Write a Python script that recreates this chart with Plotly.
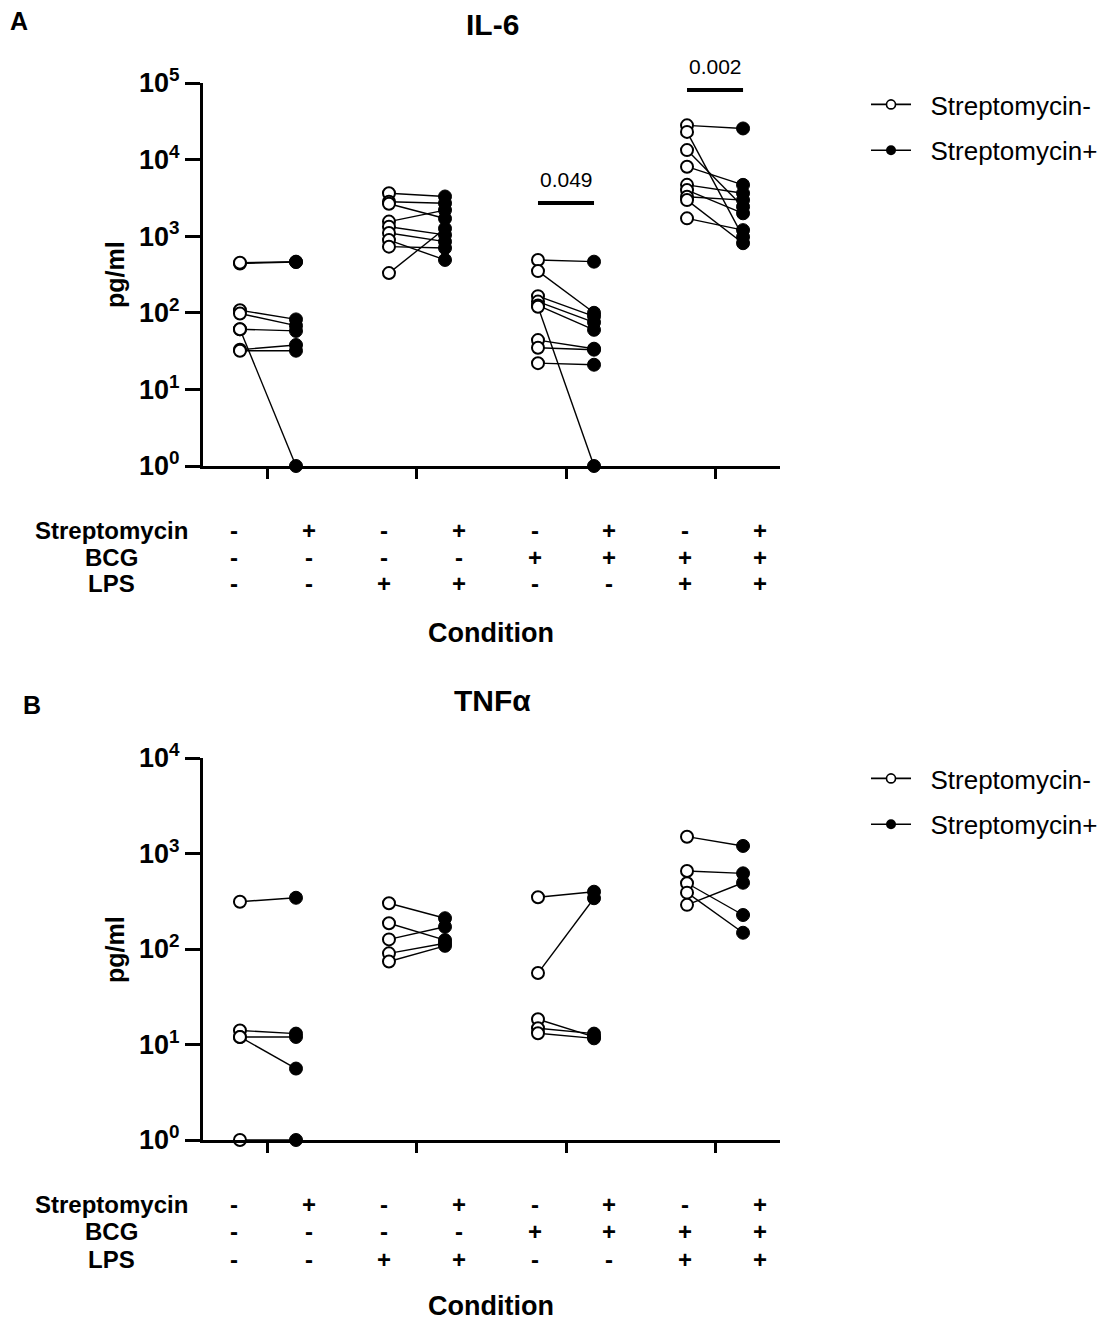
import math
import plotly.graph_objects as go

# ---------------- data ----------------
groups = [1, 2, 3, 4]

il6_open = [
    [440, 450, 108, 98, 61, 61, 33, 32],
    [3630, 2820, 2650, 1550, 1330, 1100, 890, 730, 330],
    [490, 350, 165, 140, 125, 120, 44, 35, 22],
    [28000, 23000, 13300, 8080, 4680, 4000, 3280, 2960, 1710],
]
il6_filled = [
    [460, 465, 82, 68, 58, 1, 38, 32],
    [3300, 2690, 1700, 2190, 1040, 850, 490, 700, 1260],
    [465, 100, 90, 75, 60, 1, 34, 33, 21],
    [25500, 980, 2430, 4680, 3630, 1990, 2960, 810, 1200],
]

tnf_open = [
    [313, 14, 12, 12, 1],
    [301, 186, 126, 90, 74],
    [348, 56, 18.4, 14.8, 13.1],
    [1500, 656, 488, 389, 290],
]
tnf_filled = [
    [344, 13, 12, 5.6, 1],
    [210, 124, 171, 115, 108],
    [398, 340, 12, 13, 11.6],
    [1200, 620, 227, 148, 494],
]

il6_sig_groups = [3, 4]
il6_sig_labels = ["0.049", "0.002"]
il6_sig_bar_y = [2710, 81000]

row_labels = ["Streptomycin", "BCG", "LPS"]
streptomycin = ["-", "+", "-", "+", "-", "+", "-", "+"]
bcg = ["-", "-", "-", "-", "+", "+", "+", "+"]
lps = ["-", "-", "+", "+", "-", "-", "+", "+"]

legend_names = ["Streptomycin-", "Streptomycin+"]

il6_tickvals = [1, 10, 100, 1000, 10000, 100000]
il6_ticktext = ["10<sup>0</sup>", "10<sup>1</sup>", "10<sup>2</sup>", "10<sup>3</sup>", "10<sup>4</sup>", "10<sup>5</sup>"]
tnf_tickvals = [1, 10, 100, 1000, 10000]
tnf_ticktext = ["10<sup>0</sup>", "10<sup>1</sup>", "10<sup>2</sup>", "10<sup>3</sup>", "10<sup>4</sup>"]

# ---------------- styling ----------------
PAGE_OFF = 8  # default page body margin
W, H = 1107 - PAGE_OFF, 1320 - PAGE_OFF
FONT = "Liberation Sans, Arial, sans-serif"
OFF = 0.188


def px_x(p):
    return (p - PAGE_OFF) / W


def px_y(p):
    return 1 - (p - PAGE_OFF) / H


fig = go.Figure()


def add_panel(open_vals, filled_vals, xa, ya, legend):
    for g, ov, fv in zip(groups, open_vals, filled_vals):
        lx, ly = [], []
        for o, f in zip(ov, fv):
            lx += [g - OFF, g + OFF, None]
            ly += [o, f, None]
        fig.add_trace(go.Scatter(x=lx, y=ly, mode="lines", xaxis=xa, yaxis=ya,
                                 line=dict(color="black", width=1.4),
                                 showlegend=False, cliponaxis=False, hoverinfo="skip"))
        fig.add_trace(go.Scatter(x=[g - OFF] * len(ov), y=ov, mode="markers", xaxis=xa, yaxis=ya,
                                 marker=dict(symbol="circle", size=12, color="white",
                                             line=dict(color="black", width=2)),
                                 showlegend=False, cliponaxis=False))
        fig.add_trace(go.Scatter(x=[g + OFF] * len(fv), y=fv, mode="markers", xaxis=xa, yaxis=ya,
                                 marker=dict(symbol="circle", size=13, color="black",
                                             line=dict(color="black", width=1)),
                                 showlegend=False, cliponaxis=False))
    # legend entries
    fig.add_trace(go.Scatter(x=[None], y=[None], mode="lines+markers",
                             name="\u00a0\u00a0" + legend_names[0],
                             xaxis=xa, yaxis=ya, legend=legend, legendgroup=legend + "a",
                             line=dict(color="black", width=1.6),
                             marker=dict(symbol="circle", size=9, color="white",
                                         line=dict(color="black", width=1.6))))
    fig.add_trace(go.Scatter(x=[None], y=[None], mode="lines+markers",
                             name="\u00a0\u00a0" + legend_names[1],
                             xaxis=xa, yaxis=ya, legend=legend, legendgroup=legend + "b",
                             line=dict(color="black", width=1.6),
                             marker=dict(symbol="circle", size=10, color="black")))


add_panel(il6_open, il6_filled, "x", "y", "legend")
add_panel(tnf_open, tnf_filled, "x2", "y2", "legend2")

# significance bars (IL-6)
for g, lab, by in zip(il6_sig_groups, il6_sig_labels, il6_sig_bar_y):
    fig.add_trace(go.Scatter(x=[g - OFF, g + OFF], y=[by, by], mode="lines", xaxis="x", yaxis="y",
                             line=dict(color="black", width=4), showlegend=False,
                             cliponaxis=False, hoverinfo="skip"))

annotations = []
for g, lab, by in zip(il6_sig_groups, il6_sig_labels, il6_sig_bar_y):
    annotations.append(dict(x=g, y=math.log10(by), xref="x", yref="y", text=lab,
                            showarrow=False, yanchor="bottom", yshift=10,
                            font=dict(family=FONT, size=21, color="black")))

xdom = [px_x(203), px_x(780)]
axis_common = dict(showline=True, linewidth=3, linecolor="black", showgrid=False, zeroline=False,
                   ticks="outside", tickwidth=3, tickcolor="black", automargin=False)

xaxis_cfg = dict(axis_common, domain=xdom, range=[0.564, 4.436], tickvals=groups,
                 ticktext=[""] * 4, ticklen=10)
yfont = dict(family=FONT, size=27, color="black", weight="bold")
fig.update_layout(
    xaxis=dict(xaxis_cfg, anchor="y"),
    xaxis2=dict(xaxis_cfg, anchor="y2"),
    yaxis=dict(axis_common, type="log", range=[0, 5], domain=[px_y(466), px_y(83)], anchor="x",
               tickvals=il6_tickvals, ticktext=il6_ticktext, ticklen=15, tickfont=yfont),
    yaxis2=dict(axis_common, type="log", range=[0, 4], domain=[px_y(1140), px_y(758)], anchor="x2",
                tickvals=tnf_tickvals, ticktext=tnf_ticktext, ticklen=15, tickfont=yfont),
)

# titles, labels, table
panel_defs = [
    dict(letter="A", lx=19, ly=21, title="IL-6", ty=25, ylab_y=275, rows=[530, 557, 584], cond=633),
    dict(letter="B", lx=32, ly=705, title="TNFα", ty=700, ylab_y=950, rows=[1204, 1231, 1259], cond=1306),
]
col_x = [234, 309, 384, 459, 535, 609, 685, 760]
rows_vals = [streptomycin, bcg, lps]
for pd_ in panel_defs:
    annotations.append(dict(x=px_x(pd_["lx"]), y=px_y(pd_["ly"]), xref="paper", yref="paper",
                            text=pd_["letter"], showarrow=False, xanchor="center", yanchor="middle",
                            font=dict(family=FONT, size=25, color="black", weight="bold")))
    annotations.append(dict(x=px_x(492), y=px_y(pd_["ty"]), xref="paper", yref="paper",
                            text=pd_["title"], showarrow=False, xanchor="center", yanchor="middle",
                            font=dict(family=FONT, size=30, color="black", weight="bold")))
    annotations.append(dict(x=px_x(115), y=px_y(pd_["ylab_y"]), xref="paper", yref="paper",
                            text="pg/ml", showarrow=False, textangle=-90, xanchor="center", yanchor="middle",
                            font=dict(family=FONT, size=25, color="black", weight="bold")))
    for lab, ry, vals in zip(row_labels, pd_["rows"], rows_vals):
        annotations.append(dict(x=px_x(111), y=px_y(ry), xref="paper", yref="paper",
                                text=lab, showarrow=False, xanchor="center", yanchor="middle",
                                font=dict(family=FONT, size=24, color="black", weight="bold")))
        for cx, v in zip(col_x, vals):
            annotations.append(dict(x=px_x(cx), y=px_y(ry), xref="paper", yref="paper",
                                    text=v, showarrow=False, xanchor="center", yanchor="middle",
                                    font=dict(family=FONT, size=24, color="black", weight="bold")))
    annotations.append(dict(x=px_x(491), y=px_y(pd_["cond"]), xref="paper", yref="paper",
                            text="Condition", showarrow=False, xanchor="center", yanchor="middle",
                            font=dict(family=FONT, size=27, color="black", weight="bold")))

legend_common = dict(font=dict(family=FONT, size=26, color="black"), bgcolor="rgba(0,0,0,0)",
                     tracegroupgap=9, traceorder="grouped", xanchor="left", yanchor="top",
                     itemwidth=40)
fig.update_layout(
    width=W, height=H,
    margin=dict(l=0, r=0, t=0, b=0, autoexpand=False),
    paper_bgcolor="white", plot_bgcolor="white",
    font=dict(family=FONT, color="black"),
    annotations=annotations,
    legend=dict(legend_common, x=px_x(866), y=px_y(81)),
    legend2=dict(legend_common, x=px_x(866), y=px_y(755)),
)

fig.write_html("out.html")
